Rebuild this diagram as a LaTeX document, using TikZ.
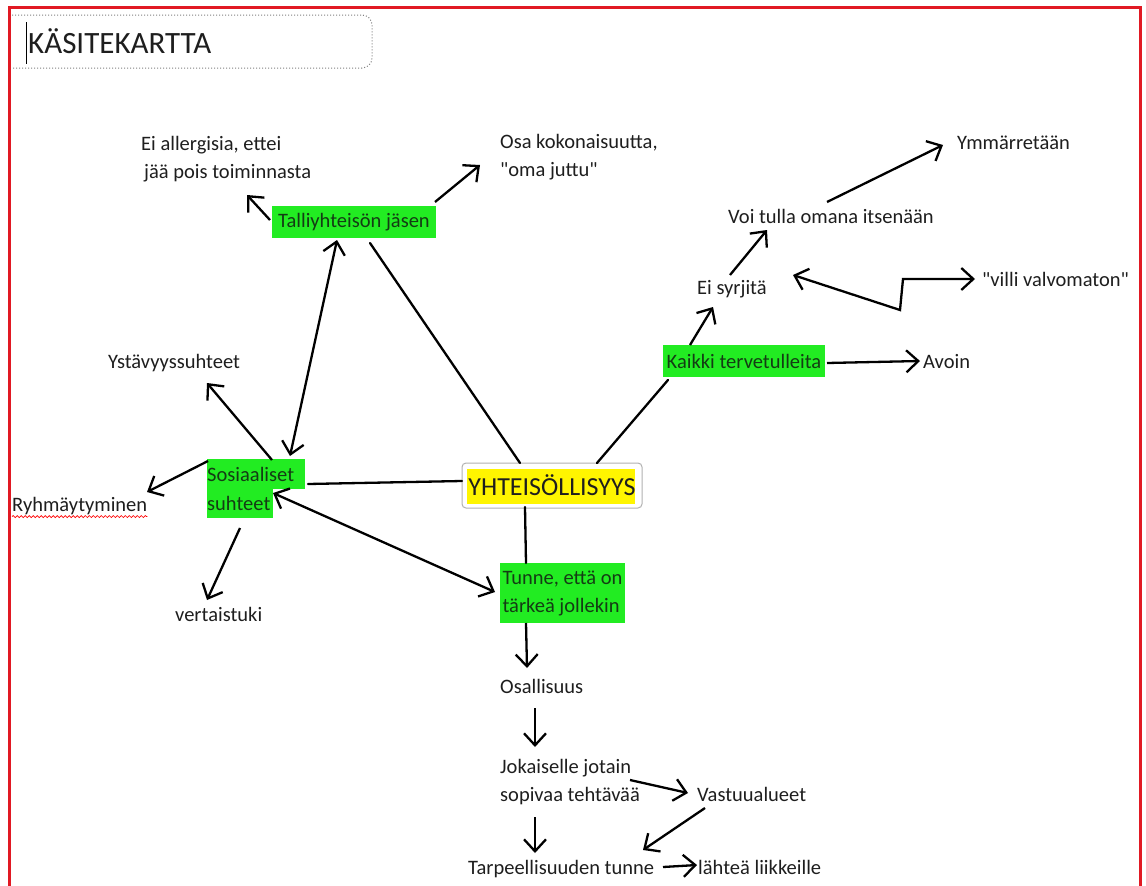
\documentclass[tikz,border=0pt]{standalone}
\usepackage{fontspec}
\setmainfont{Carlito}[Ligatures=TeXOff]
\usetikzlibrary{arrows.meta,calc,backgrounds,decorations.pathmorphing}
\definecolor{boxgreen}{RGB}{34,236,34}
\definecolor{greentext}{RGB}{20,60,20}
\definecolor{ink}{RGB}{30,30,30}
\definecolor{frame}{RGB}{225,25,35}
\definecolor{hl}{RGB}{255,245,0}
\begin{document}
\begin{tikzpicture}[x=1pt,y=-1pt,
 txt/.style={font=\fontsize{20.5}{28.5}\selectfont, inner sep=0pt, text=ink, anchor=base west, align=left},
 gbox/.style={fill=boxgreen, font=\fontsize{20.5}{28}\selectfont, text=greentext, inner sep=1pt},
 arr/.style={line width=2.3pt, -{Straight Barb[length=12pt,width=22pt]}},
 darr/.style={line width=2.3pt, {Straight Barb[length=12pt,width=22pt]}-{Straight Barb[length=12pt,width=22pt]}},
 link/.style={line width=2.3pt, line cap=round},
]
\useasboundingbox (0,0) rectangle (1146,886);
\begin{scope}[on background layer]
\fill[white] (0,0) rectangle (1146,886);
\end{scope}
\draw[frame, line width=3pt] (9,890) -- (9,7) -- (1140,7) -- (1140,890);

% title
\draw[gray, dotted, line width=1pt, rounded corners=10pt] (12,15) -- (372,15) -- (372,68) -- (12,68);
\draw[black, line width=0.8pt] (26,22) -- (26,64);
\node[font=\fontsize{31}{36}\selectfont, anchor=base west, inner sep=0pt, text=ink] (title) at (28,53) {KÄSITEKARTTA};

% main nodes
\node[draw=gray!60, line width=1pt, rounded corners=4pt, minimum width=180pt, minimum height=45pt, font=\fontsize{26}{30}\selectfont, text=ink, inner sep=0pt] (yht) at (552,485.5) {YHTEISÖLLISYYS};
\begin{scope}[on background layer]
\fill[hl] ($(yht.north west)+(5,6)$) rectangle ($(yht.south east)+(-8,-5)$);
\end{scope}

\node[gbox, minimum width=164pt, minimum height=32pt] (tal) at (354,222) {Talliyhteisön jäsen};
\node[gbox, minimum width=162pt, minimum height=32pt] (kaikki) at (744,361) {Kaikki tervetulleita};
\node[gbox, minimum width=125pt, minimum height=60pt, align=left] (tunne) at (562.5,593) {Tunne, että on\\tärkeä jollekin};
\node[txt, text=greentext] (sos) at (207,510) {Sosiaaliset\\suhteet};
\begin{scope}[on background layer]
\fill[boxgreen] ($(sos.base west)+(0,-51)$) rectangle ($(sos.base west)+(98,-21)$);
\fill[boxgreen] ($(sos.base west)+(0,-21.5)$) rectangle ($(sos.base west)+(66,8)$);
\end{scope}

% text nodes
\node[txt] (allerg) at (141,178.5) {Ei allergisia, ettei\\\hspace*{3pt}jää pois toiminnasta};
\node[txt] (osa) at (500,176.5) {Osa kokonaisuutta,\\"oma juttu"};
\node[txt] (ymm) at (957,149.5) {Ymmärretään};
\node[txt] (voi) at (728,223.5) {Voi tulla omana itsenään};
\node[txt] (eisyr) at (697,294.5) {Ei syrjitä};
\node[txt] (villi) at (982,286.5) {"villi valvomaton"};
\node[txt] (avoin) at (923,368) {Avoin};
\node[txt] (ystav) at (108,368.5) {Ystävyyssuhteet};
\node[txt] (ryhma) at (12,511.5) {Ryhmäytyminen};
\node[txt] (vert) at (175,621.5) {vertaistuki};
\node[txt] (osall) at (500,693.5) {Osallisuus};
\node[txt] (jok) at (500,801.5) {Jokaiselle jotain\\sopivaa tehtävää};
\node[txt] (vast) at (697,801.5) {Vastuualueet};
\node[txt] (tarp) at (468,874.5) {Tarpeellisuuden tunne};
\node[txt] (lahtea) at (698,874.5) {lähteä liikkeille};

\draw[red, line width=0.7pt, decorate, decoration={snake, amplitude=1pt, segment length=4pt}] ($(ryhma.base west)+(0,5)$) -- ($(ryhma.base east)+(0,5)$);

% connectors
\draw[arr] ($(tal)+(-84,-2)$) -- ($(allerg.base west)+(106,16.5)$);
\draw[arr] ($(tal)+(81,-20)$) -- ($(osa.base west)+(-20,-11.5)$);
\draw[darr] ($(tal)+(-17,18)$) -- ($(sos.base west)+(83,-54)$);
\draw[link] ($(tal)+(16,21)$) -- ($(yht)+(-32,-22.5)$);
\draw[link] ($(yht)+(-90,-4.5)$) -- ($(sos.base west)+(101,-26)$);
\draw[link] ($(yht)+(-27,21.5)$) -- ($(tunne)+(-36.5,-30)$);
\draw[darr] ($(sos.base west)+(66,-17)$) -- ($(tunne)+(-67.5,-1)$);
\draw[arr] ($(sos.base west)+(65,-50)$) -- ($(ystav.base west)+(99,14.5)$);
\draw[arr] ($(sos.base west)+(1,-49)$) -- ($(ryhma.base west)+(135,-19.5)$);
\draw[arr] ($(sos.base west)+(33,18)$) -- ($(vert.base west)+(32,-21.5)$);
\draw[arr] ($(kaikki)+(-54,-16)$) -- ($(eisyr.base west)+(16,12.5)$);
\draw[arr] ($(kaikki)+(83,2)$) -- ($(avoin.base west)+(-3,-7)$);
\draw[link] ($(kaikki)+(-76,19)$) -- ($(yht)+(45,-22.5)$);
\draw[arr] ($(eisyr.base west)+(33,-19.5)$) -- ($(voi.base west)+(39,6.5)$);
\draw[arr] ($(voi.base west)+(99,-21.5)$) -- ($(ymm.base west)+(-14,-4.5)$);
\draw[darr, line join=miter] ($(eisyr.base west)+(96,-19.5)$) -- ++(107,35) -- ++(3,-31) -- ($(villi.base west)+(-7,-7.5)$);
\draw[arr] ($(tunne)+(-36.5,30)$) -- ($(osall.base west)+(27,-25.5)$);
\draw[arr] ($(osall.base west)+(35,14.5)$) -- ($(jok.base west)+(35,-54.5)$);
\draw[arr] ($(jok.base west)+(130,-21.5)$) -- ($(vast.base west)+(-9,-8.5)$);
\draw[arr] ($(jok.base west)+(35,15.5)$) -- ($(tarp.base west)+(67,-21.5)$);
\draw[arr] ($(vast.base west)+(8,6.5)$) -- ($(tarp.base west)+(175,-24.5)$);
\draw[arr] ($(tarp.base west)+(195,-7.5)$) -- ($(lahtea.base west)+(-1,-9.5)$);
\end{tikzpicture}
\end{document}
